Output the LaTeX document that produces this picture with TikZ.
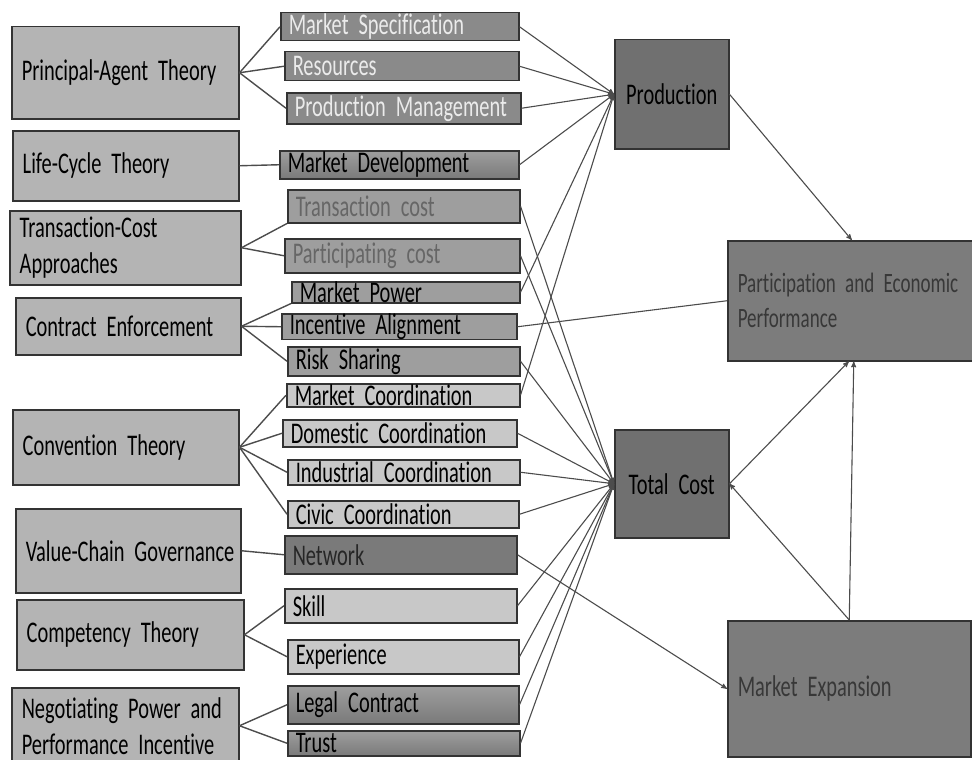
\documentclass[tikz,border=0pt]{standalone}
\usepackage{fontspec}
\setmainfont[FakeStretch=0.68,Ligatures=NoCommon]{Carlito}
\usepackage{tikz}
\usetikzlibrary{arrows}
\definecolor{theorygray}{RGB}{180,180,180}
\definecolor{darkfactor}{RGB}{138,138,138}
\definecolor{midfactor}{RGB}{158,158,158}
\definecolor{lightfactor}{RGB}{200,200,200}
\definecolor{deepfactor}{RGB}{122,122,122}
\definecolor{outcomegray}{RGB}{112,112,112}
\definecolor{resultgray}{RGB}{124,124,124}
\newcommand\boxfont{\fontsize{30}{36}\selectfont
	\fontdimen2\font=4.6pt\relax
	\fontdimen3\font=0pt\relax
	\fontdimen4\font=0pt\relax}

\begin{document}
\begin{tikzpicture}[x=1pt,y=-1pt,
		font=\boxfont,
		every node/.style={anchor=north west,draw=black!80,line width=1.5pt,inner ysep=0pt,align=left},
		theory/.style={fill=theorygray,inner xsep=10pt},
		factor/.style={inner xsep=8pt},
		pale/.style={factor,fill=darkfactor,text=black!8},
		dim/.style={factor,fill=midfactor,text=black!60},
		mid/.style={factor,fill=midfactor},
		light/.style={factor,fill=lightfactor},
		deep/.style={factor,top color=midfactor,bottom color=deepfactor},
		outcome/.style={fill=outcomegray,inner xsep=10pt,align=center},
		result/.style={fill=resultgray,inner xsep=10pt,text=black!78},
		link/.style={draw=black!70,line width=1.4pt},
		arr/.style={draw=black!70,line width=1.1pt,-stealth'}]
	\useasboundingbox (0,0) rectangle (972,760);

	% theories
	\node[theory,text width=207pt,minimum height=92pt] (pat) at (11,26) {Principal-Agent Theory};
	\node[theory,text width=206pt,minimum height=70pt] (lct) at (12,130) {Life-Cycle Theory};
	\node[theory,text width=211pt,minimum height=74pt] (tca) at (9,210) {Transaction-Cost\\Approaches};
	\node[theory,text width=205pt,minimum height=57pt] (ce) at (15,297) {Contract Enforcement};
	\node[theory,text width=206pt,minimum height=75pt] (cvt) at (12,409) {Convention Theory};
	\node[theory,text width=205pt,minimum height=84pt] (vcg) at (15,508) {\mbox{Value-Chain Governance}};
	\node[theory,text width=207pt,minimum height=70pt] (cpt) at (16,599) {Competency Theory};
	\node[theory,text width=207pt,minimum height=76pt] (npp) at (11,687) {Negotiating Power and\\Performance Incentive};

	% factors
	\node[pale,text width=222pt,minimum height=28pt] (ms) at (280,12) {Market Specification};
	\node[pale,text width=218pt,minimum height=29pt] (res) at (284,51) {Resources};
	\node[pale,text width=218pt,minimum height=31pt] (pm) at (286,92) {Production Management};
	\node[deep,text width=223pt,minimum height=28pt] (md) at (279,150) {Market Development};
	\node[dim,text width=216pt,minimum height=33pt] (tc) at (287,189) {Transaction cost};
	\node[dim,text width=219pt,minimum height=34pt] (pc) at (284,238) {Participating cost};
	\node[mid,text width=212pt,minimum height=21pt] (mp) at (291,281) {Market Power};
	\node[mid,text width=219pt,minimum height=23pt] (ia) at (281,313) {Incentive Alignment};
	\node[mid,text width=216pt,minimum height=29pt] (rs) at (287,346) {Risk Sharing};
	\node[light,text width=217pt,minimum height=23pt] (mc) at (286,383) {Market Coordination};
	\node[light,text width=218pt,minimum height=27pt] (dc) at (282,419) {Domestic Coordination};
	\node[light,text width=216pt,minimum height=25pt] (ic) at (287,459) {Industrial Coordination};
	\node[light,text width=215pt,minimum height=27pt] (cc) at (287,500) {Civic Coordination};
	\node[factor,fill=deepfactor,text=black!85,text width=216pt,minimum height=38pt] (nw) at (284,535) {Network};
	\node[light,text width=216pt,minimum height=34pt] (sk) at (284,588) {Skill};
	\node[light,text width=215pt,minimum height=34pt] (ex) at (287,639) {Experience};
	\node[deep,text width=215pt,minimum height=38pt] (lc) at (287,685) {Legal Contract};
	\node[deep,text width=216pt,minimum height=25pt] (tr) at (287,730) {Trust};

	% outcomes
	\node[outcome,text width=94pt,minimum height=109pt] (pr) at (614,39) {Production};
	\node[outcome,text width=94pt,minimum height=108pt] (tot) at (614,429) {Total Cost};
	\node[result,font=\fontsize{28}{35}\selectfont,text width=228pt,minimum height=120pt] (pep) at (727,240) {\mbox{Participation and Economic}\\Performance};
	\node[result,text width=223pt,minimum height=136pt] (me) at (727,620) {Market Expansion};

	% theory to factor
	\foreach \f in {ms,res,pm} \draw[link] (pat.east) -- (\f.west);
	\draw[link] (lct.east) -- (md.west);
	\draw[link] (tca.east) -- (tc.south west);
	\draw[link] (tca.east) -- (pc.west);
	\draw[link] (ce.east) -- (mp.south west);
	\foreach \f in {ia,rs} \draw[link] (ce.east) -- (\f.west);
	\foreach \f in {mc,dc,ic,cc} \draw[link] (cvt.east) -- (\f.west);
	\draw[link] (vcg.east) -- (nw.west);
	\foreach \f in {sk,ex} \draw[link] (cpt.east) -- (\f.west);
	\foreach \f in {lc,tr} \draw[link] (npp.east) -- (\f.west);

	% factor to outcome
	\foreach \f in {ms,res,pm,md,mp,mc} \draw[arr] (\f.east) -- (pr.west);
	\foreach \f in {tc,pc,rs,dc,ic,cc,sk,ex,lc,tr} \draw[arr] (\f.east) -- (tot.west);
	\draw[link,line width=1.1pt] (ia.east) -- (pep.west);
	\draw[arr] (nw.east) -- (me.west);

	% outcome to performance
	\draw[arr] (pr.east) -- (pep.south |- pep.north);
	\draw[arr] (me.north) -- (tot.east);
	\draw[arr] (tot.east) -- ([xshift=-3pt]pep.south);
	\draw[arr] (me.north) -- ([xshift=2pt]pep.south);
\end{tikzpicture}
\end{document}
